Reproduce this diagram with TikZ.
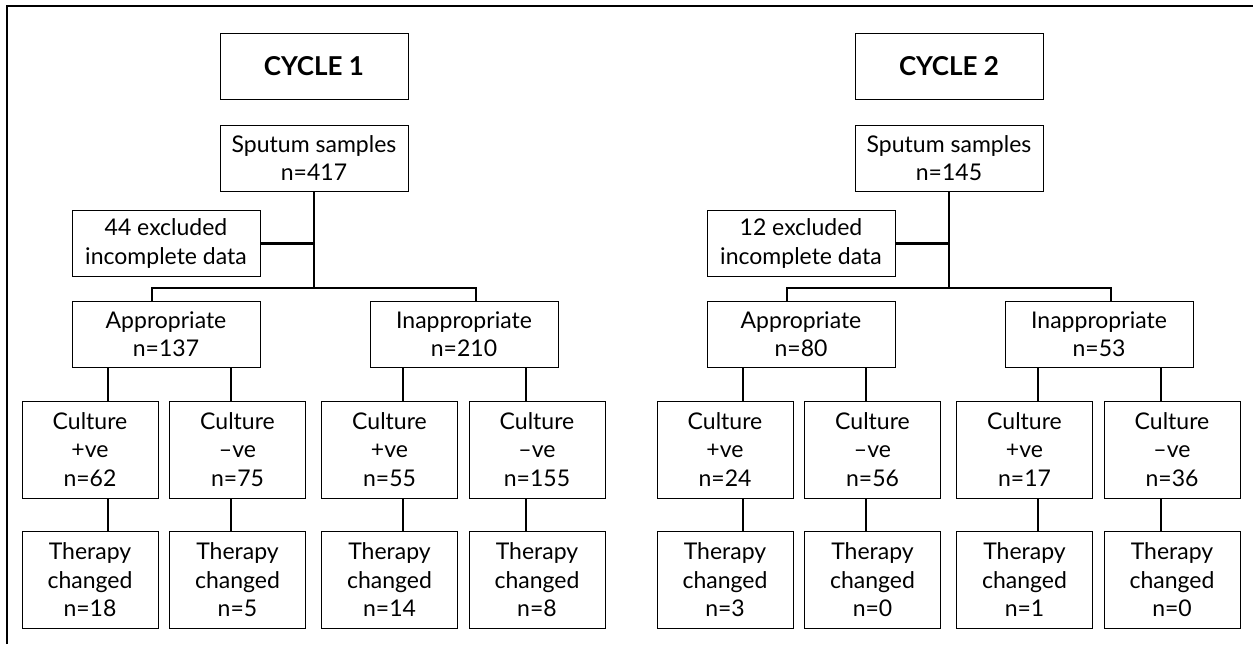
\documentclass[tikz,border=0pt]{standalone}
\usepackage{fontspec}
\setmainfont{Lato}

\begin{document}
\begin{tikzpicture}[x=0.5pt, y=-0.5pt, font=\fontsize{11.5}{14.25}\selectfont,
		box/.style={draw, line width=0.5pt, align=center, inner sep=0pt},
		wide/.style={box, minimum width=94pt, minimum height=33pt},
		small/.style={box, minimum width=68pt, minimum height=48.5pt},
		link/.style={line width=1.4pt}]
		\useasboundingbox (0,0) rectangle (1253,644);
		\draw [line width=1pt] (7,644) -- (7,6) -- (1253,6);
		\foreach \k/\dx/\nsp/\nex/\nap/\nin/\nA/\nB/\nC/\nD/\tA/\tB/\tC/\tD in
			{1/0/417/44/137/210/62/75/55/155/18/5/14/8,
			 2/635/145/12/80/53/24/56/17/36/3/0/1/0} {
			\node (cy\k)  [wide, font=\fontsize{13}{15}\selectfont\bfseries] at (\dx+314,66) {CYCLE \k};
			\node (sp\k)  [wide] at (\dx+314,158) {Sputum samples\\n=\nsp};
			\node (ex\k)  [wide] at (\dx+166,243.5) {\nex{} excluded\\incomplete data};
			\node (ap\k)  [wide] at (\dx+166,334) {Appropriate\\n=\nap};
			\node (in\k)  [wide] at (\dx+464,334) {Inappropriate\\n=\nin};
			\node (apos\k) [small] at (\dx+90,449.5)  {Culture\\+ve\\n=\nA};
			\node (aneg\k) [small] at (\dx+237.5,449.5) {Culture\\–ve\\n=\nB};
			\node (ipos\k) [small] at (\dx+389.5,449.5) {Culture\\+ve\\n=\nC};
			\node (ineg\k) [small] at (\dx+537,449.5) {Culture\\–ve\\n=\nD};
			\node (tapos\k) [small] at (\dx+90,580)  {Therapy\\changed\\n=\tA};
			\node (taneg\k) [small] at (\dx+237.5,580) {Therapy\\changed\\n=\tB};
			\node (tipos\k) [small] at (\dx+389.5,580) {Therapy\\changed\\n=\tC};
			\node (tineg\k) [small] at (\dx+537,580) {Therapy\\changed\\n=\tD};
			\coordinate (j\k) at (\dx+314,288);
			% split lines
			\draw [link] (sp\k.south) -- (j\k);
			\draw [link] (ex\k.east) -- (ex\k.east -| j\k);
			\draw [link] ([xshift=-7pt]ap\k.north) |- (j\k) -| ([xshift=6pt]in\k.north);
			\draw [link] ([xshift=9pt]apos\k.north) -- ([xshift=9pt]apos\k.north |- ap\k.south);
			\draw [link] ([xshift=-3.25pt]aneg\k.north) -- ([xshift=-3.25pt]aneg\k.north |- ap\k.south);
			\draw [link] ([xshift=6.75pt]ipos\k.north) -- ([xshift=6.75pt]ipos\k.north |- in\k.south);
			\draw [link] ([xshift=-5.5pt]ineg\k.north) -- ([xshift=-5.5pt]ineg\k.north |- in\k.south);
			\draw [link] ([xshift=9pt]apos\k.south) -- ([xshift=9pt]tapos\k.north);
			\draw [link] ([xshift=-3.25pt]aneg\k.south) -- ([xshift=-3.25pt]taneg\k.north);
			\draw [link] ([xshift=6.75pt]ipos\k.south) -- ([xshift=6.75pt]tipos\k.north);
			\draw [link] ([xshift=-5.5pt]ineg\k.south) -- ([xshift=-5.5pt]tineg\k.north);
		}
	\end{tikzpicture}
\end{document}
